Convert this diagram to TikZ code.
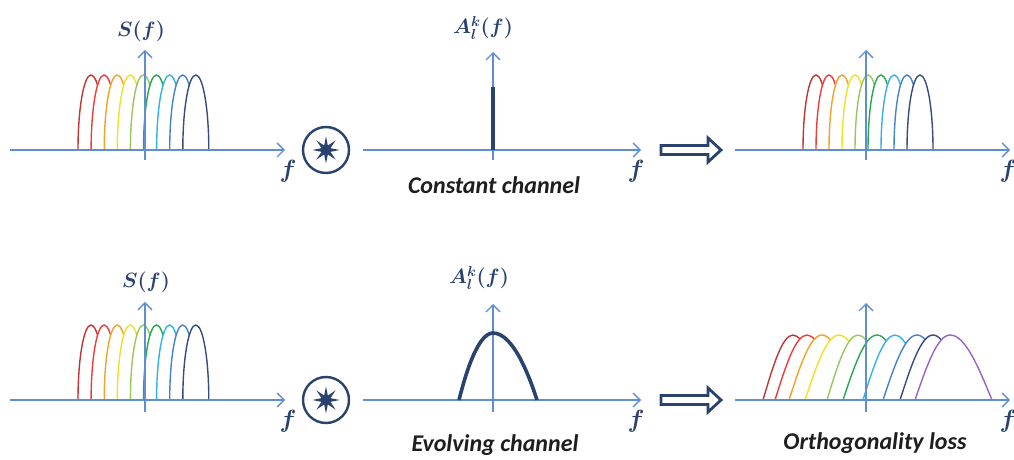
\documentclass[tikz,border=0pt]{standalone}
\usepackage{fontspec}
\newfontfamily\carl{Carlito}
\usetikzlibrary{arrows.meta,shapes.geometric}
\definecolor{axiscol}{RGB}{95,143,210}
\definecolor{navy}{RGB}{42,66,110}
\definecolor{txtcol}{RGB}{30,30,30}
\definecolor{c1}{RGB}{190,55,50}
\definecolor{c2}{RGB}{238,60,60}
\definecolor{c3}{RGB}{245,160,40}
\definecolor{c4}{RGB}{240,225,40}
\definecolor{c5}{RGB}{150,200,95}
\definecolor{c6}{RGB}{40,168,80}
\definecolor{c7}{RGB}{50,178,232}
\definecolor{c8}{RGB}{70,130,200}
\definecolor{c9}{RGB}{55,75,125}
\definecolor{c10}{RGB}{150,100,200}
\begin{document}
\begin{tikzpicture}[x=1pt,y=1pt,
  axis/.style={draw=axiscol, line width=1.4pt, -{Straight Barb[length=7pt,width=14pt,line width=1.4pt]}},
  archline/.style={line width=1.4pt, fill=white},
  flabel/.style={text=navy, font=\boldmath\fontsize{24}{25}\selectfont, inner sep=0pt},
  siglabel/.style={text=navy, font=\boldmath\fontsize{22}{23}\selectfont, inner sep=0pt},
  caption/.style={text=txtcol, font=\carl\bfseries\itshape\fontsize{24}{25}\selectfont, inner sep=0pt},
  convcircle/.style={circle, draw=navy, line width=2.4pt, minimum size=46pt, inner sep=0pt},
  convstar/.style={star, star points=8, star point ratio=2.8, fill=navy, minimum size=27pt, inner sep=0pt},
  hollow/.style={draw=navy, line width=2.8pt, fill=white, line join=miter}
]
\useasboundingbox (0,0) rectangle (1014,460);
\fill[white] (0,0) rectangle (1014,460);

% ================= TOP ROW =================
% panel 1
\foreach \c [count=\i from 0] in {c1,c2,c3,c4,c5,c6,c7,c8,c9}{
  \filldraw[archline, draw=\c] ({78+13.1*\i},310) arc[start angle=180,end angle=0,x radius=13pt,y radius=75pt];
}
\draw[axis] (10,310) -- (285,310);
\draw[axis] (145,300) -- (145,410);
\node[siglabel] (s1) at (141,429) {$S(f)$};
\node[flabel] (f1) at (288,289) {$f$};

% convolution
\node[convcircle] (conv1) at (326,310) {};
\node[convstar] (star1) at (conv1.center) {};

% panel 2
\draw[axis] (363,310) -- (641,310);
\draw[axis] (493,300) -- (493,408);
\draw[draw=navy, line width=4pt] (493,310) -- (493,373);
\node[siglabel] (a1) at (483,432) {$A_l^k(f)$};
\node[flabel] (f2) at (636,289) {$f$};
\node[caption] (cap1) at (494,275) {Constant channel};

% hollow arrow
\draw[hollow] (661,305.5) -- (708,305.5) -- (708,298) -- (721,310) -- (708,322) -- (708,314.5) -- (661,314.5) -- cycle;

% panel 3
\foreach \c [count=\i from 0] in {c1,c2,c3,c4,c5,c6,c7,c8,c9}{
  \filldraw[archline, draw=\c] ({803+13*\i},310) arc[start angle=180,end angle=0,x radius=13pt,y radius=75pt];
}
\draw[axis] (735,310) -- (1010,310);
\draw[axis] (866,300) -- (866,410);
\node[flabel] (f3) at (1008,289) {$f$};

% ================= BOTTOM ROW =================
% panel 1
\foreach \c [count=\i from 0] in {c1,c2,c3,c4,c5,c6,c7,c8,c9}{
  \filldraw[archline, draw=\c] ({78+13.1*\i},60) arc[start angle=180,end angle=0,x radius=13pt,y radius=75pt];
}
\draw[axis] (10,60) -- (285,60);
\draw[axis] (145,48) -- (145,158);
\node[siglabel] (s2) at (146,178) {$S(f)$};
\node[flabel] (f4) at (288,39) {$f$};

% convolution
\node[convcircle] (conv2) at (326,60) {};
\node[convstar] (star2) at (conv2.center) {};

% panel 2
\draw[axis] (363,60) -- (641,60);
\draw[axis] (493,48) -- (493,156);
\draw[draw=navy, line width=3.6pt] (459,60) parabola bend (493,127) (537,60);
\node[siglabel] (a2) at (479,182) {$A_l^k(f)$};
\node[flabel] (f5) at (636,39) {$f$};
\node[caption] (cap2) at (495,15) {Evolving channel};

% hollow arrow
\draw[hollow] (661,55.5) -- (708,55.5) -- (708,48) -- (721,60) -- (708,72) -- (708,64.5) -- (661,64.5) -- cycle;

% panel 3
\foreach \x/\h/\c in {763/30/c1,775/32/c2,789/33/c3,805/34/c4,827/31/c5,843/34/c6,863/32/c7,883/34/c8,900/33/c9}{
  \filldraw[archline, draw=\c] (\x,60) sin ({\x+\h},125) cos ({\x+2*\h},60);
}
\filldraw[archline, draw=c10] (915,60) sin (950,125) cos (992,60);
\draw[axis] (735,60) -- (1010,60);
\draw[axis] (866,48) -- (866,157);
\node[flabel] (f6) at (1008,39) {$f$};
\node[caption] (cap3) at (875,17) {Orthogonality loss};
\end{tikzpicture}
\end{document}
